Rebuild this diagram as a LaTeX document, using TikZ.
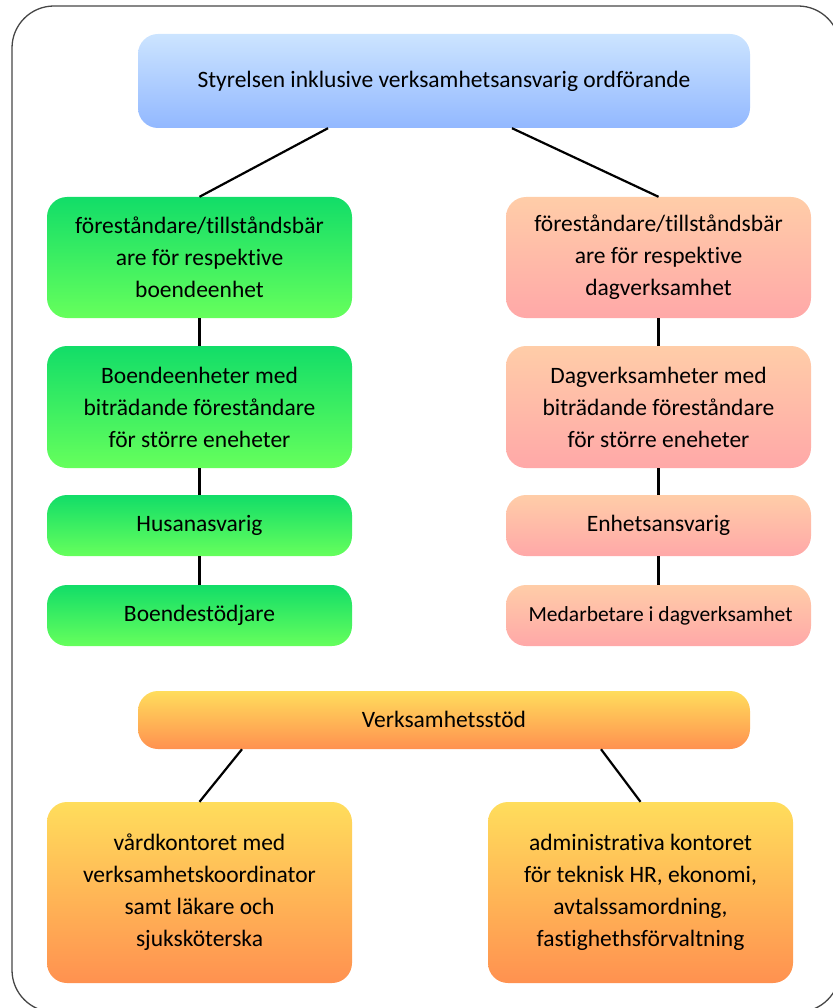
\documentclass[tikz,border=0pt]{standalone}
\usepackage{fontspec}
\setmainfont{Carlito}[Ligatures=NoCommon]
\usetikzlibrary{calc}
\definecolor{blueT}{RGB}{204,228,255}
\definecolor{blueB}{RGB}{146,184,255}
\definecolor{greenT}{RGB}{18,221,104}
\definecolor{greenB}{RGB}{102,255,92}
\definecolor{pinkT}{RGB}{255,205,168}
\definecolor{pinkB}{RGB}{255,168,168}
\definecolor{orT}{RGB}{255,221,92}
\definecolor{orB}{RGB}{255,145,80}
\definecolor{frameC}{RGB}{70,70,70}
\tikzset{
  box/.style={rectangle, rounded corners=20pt, draw=none, align=center, inner sep=0pt,
    font=\fontsize{23.5}{32}\selectfont, text=black},
  bluebox/.style={box, top color=blueT, bottom color=blueB},
  greenbox/.style={box, top color=greenT, bottom color=greenB, minimum width=305pt},
  pinkbox/.style={box, top color=pinkT, bottom color=pinkB, minimum width=305pt},
  orbox/.style={box, top color=orT, bottom color=orB},
  diag/.style={draw=black, line width=2.2pt},
  vert/.style={draw=black, line width=3.8pt},
}
\begin{document}
\begin{tikzpicture}[x=1pt,y=-1pt]
\useasboundingbox (0,0) rectangle (832,1008);
\draw[frameC, line width=1.3pt, rounded corners=42pt] (12,6) rectangle (840,1012);
% top
\node[bluebox, minimum width=612pt, minimum height=94pt] (top) at (444,81)
  {\raisebox{3pt}{Styrelsen inklusive verksamhetsansvarig ordförande}};
% left column
\node[greenbox, minimum height=121pt] (l1) at (199.5,257.5)
  {föreståndare/tillståndsbär\\are för respektive\\boendeenhet};
\node[greenbox, minimum height=122pt] (l2) at (199.5,407)
  {Boendeenheter med\\biträdande föreståndare\\för större eneheter};
\node[greenbox, minimum height=61pt] (l3) at (199.5,525.5) {Husanasvarig};
\node[greenbox, minimum height=61pt] (l4) at (199.5,615.5) {Boendestödjare};
% right column
\node[pinkbox, minimum height=121pt] (r1) at (658.5,257.5)
  {föreståndare/tillståndsbär\\are för respektive\\dagverksamhet};
\node[pinkbox, minimum height=122pt] (r2) at (658.5,407)
  {Dagverksamheter med\\biträdande föreståndare\\för större eneheter};
\node[pinkbox, minimum height=61pt] (r3) at (658.5,525.5) {Enhetsansvarig};
\node[pinkbox, minimum height=61pt] (r4) at (658.5,615.5)
  {\hspace*{4pt}\fontsize{21.5}{28}\selectfont Medarbetare i dagverksamhet};
% support
\node[orbox, minimum width=612pt, minimum height=58pt] (vs) at (444,720)
  {\raisebox{2pt}{Verksamhetsstöd}};
\node[orbox, minimum width=305pt, minimum height=181pt] (b1) at (199.5,892.5)
  {vårdkontoret med\\verksamhetskoordinator\\samt läkare och\\sjuksköterska};
\node[orbox, minimum width=305pt, minimum height=181pt] (b2) at (640.5,892.5)
  {administrativa kontoret\\för teknisk HR, ekonomi,\\avtalssamordning,\\fastighethsförvaltning};
% connectors
\draw[diag] ($(top.south)+(-116,0)$) -- (l1.north);
\draw[diag] ($(top.south)+(68,0)$) -- (r1.north);
\draw[vert] (l1.south) -- (l2.north);
\draw[vert] (l2.south) -- (l3.north);
\draw[vert] (l3.south) -- (l4.north);
\draw[vert] (r1.south) -- (r2.north);
\draw[vert] (r2.south) -- (r3.north);
\draw[vert] (r3.south) -- (r4.north);
\draw[diag] ($(vs.south)+(-202,0)$) -- (b1.north);
\draw[diag] ($(vs.south)+(157,0)$) -- (b2.north);
\end{tikzpicture}
\end{document}
